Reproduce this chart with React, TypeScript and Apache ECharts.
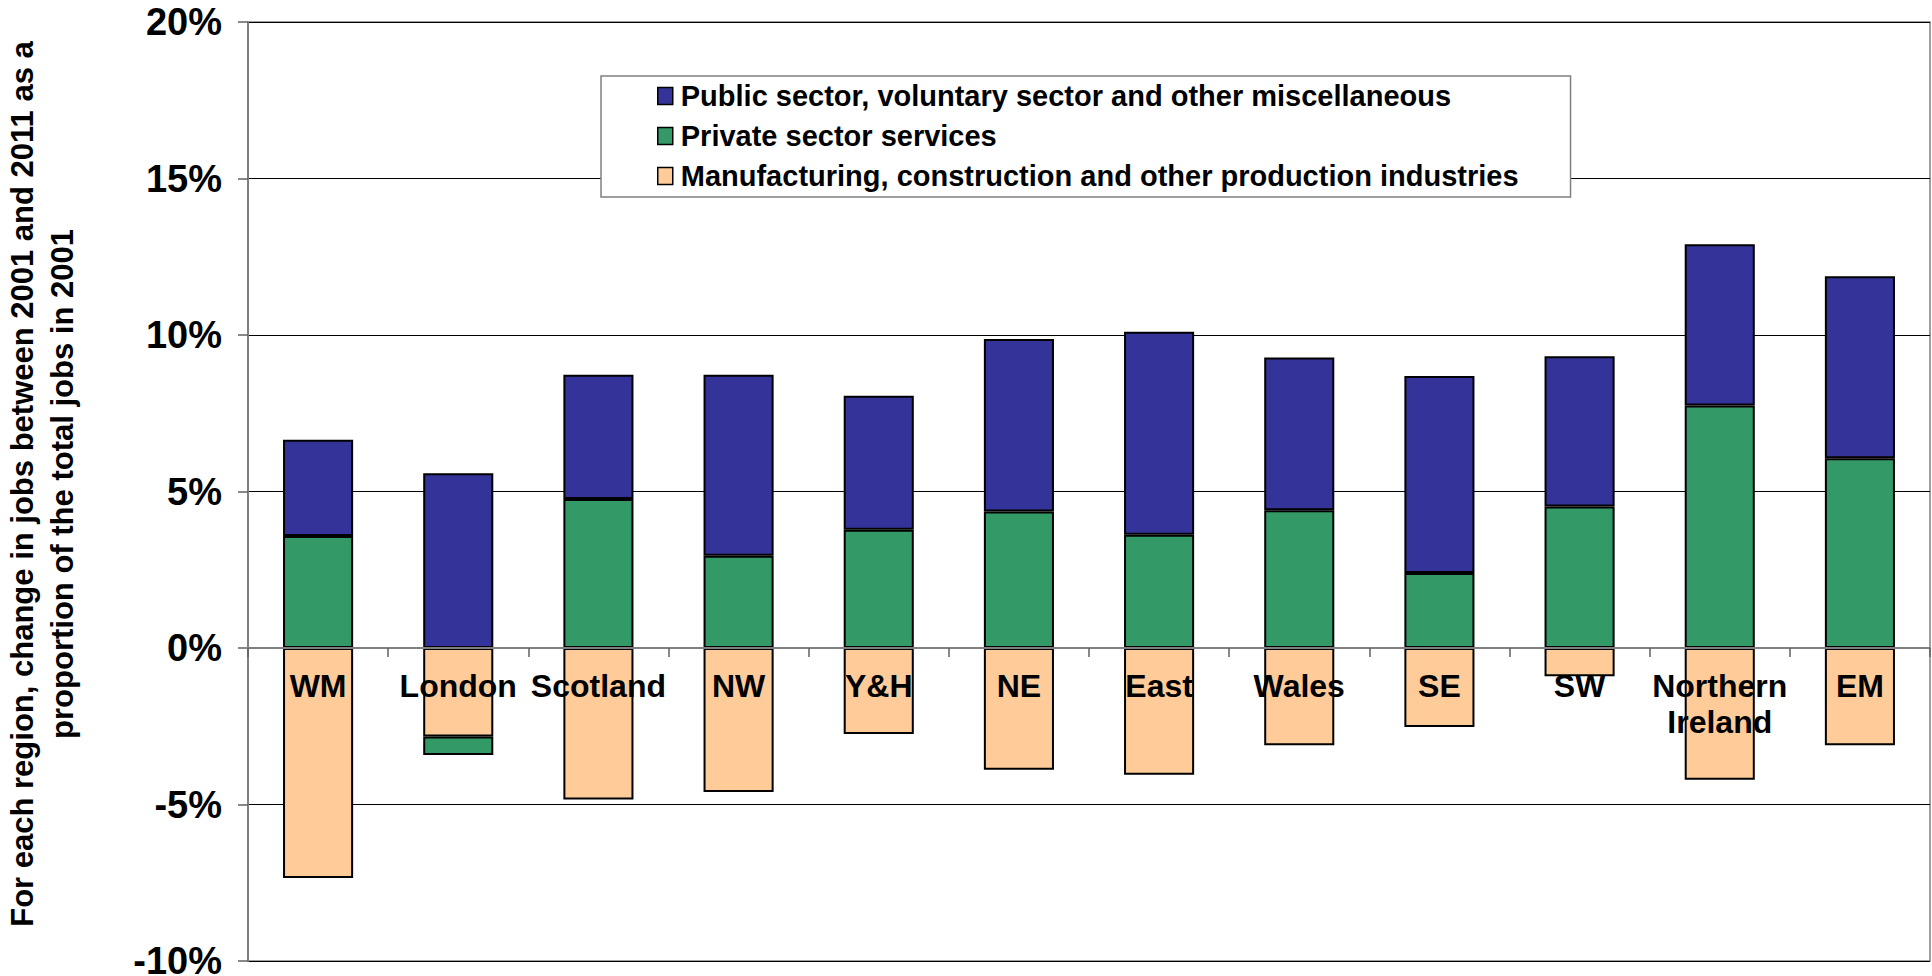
import React, { useEffect, useRef } from "react";
import * as echarts from "echarts";

const categories = ["WM", "London", "Scotland", "NW", "Y&H", "NE", "East", "Wales", "SE", "SW", "Northern\nIreland", "EM"];
const manufacturing = [-7.35, -2.83, -4.84, -4.6, -2.75, -3.89, -4.05, -3.11, -2.52, -0.9, -4.21, -3.11];
const privateServices = [3.58, -0.59, 4.76, 2.95, 3.78, 4.36, 3.62, 4.4, 2.4, 4.52, 7.75, 6.06];
const publicSector = [3.07, 5.58, 3.97, 5.78, 4.28, 5.51, 6.48, 4.88, 6.29, 4.8, 5.15, 5.82];
const seriesNames = [
  "Public sector, voluntary sector and other miscellaneous",
  "Private sector services",
  "Manufacturing, construction and other production industries",
];
const yTitle = "For each region, change in jobs between 2001 and 2011 as a\nproportion of the total jobs in 2001";

const FONT = "'Liberation Sans', Arial, Helvetica, sans-serif";

export default function App() {
  const ref = useRef<HTMLDivElement>(null);
  useEffect(() => {
    if (!ref.current) return;
    const chart = echarts.init(ref.current, null, { renderer: "svg" });
    const barStyle = (color: string) => ({ color, borderColor: "#000", borderWidth: 2 });
    chart.setOption({
      animation: false,
      backgroundColor: "#fff",
      grid: {
        left: 248,
        right: 2,
        top: 22,
        bottom: 15,
        outerBoundsMode: "none",
        containLabel: false,
        show: true,
        borderColor: "#808080",
        borderWidth: 1.5,
        backgroundColor: "transparent",
      },
      legend: {
        orient: "vertical",
        left: 601,
        top: 76,
        data: seriesNames,
        backgroundColor: "#fff",
        borderColor: "#808080",
        borderWidth: 1.5,
        padding: [5, 52, 6, 56],
        itemGap: 10,
        itemWidth: 15,
        itemHeight: 17,
        icon: "rect",
        selectedMode: false,
        itemStyle: { borderColor: "#000", borderWidth: 1.5 },
        textStyle: {
          fontFamily: FONT,
          fontWeight: "bold",
          fontSize: 29,
          color: "#000",
          lineHeight: 30,
          padding: [0, 0, 0, 3],
        },
      },
      xAxis: {
        type: "category",
        data: categories,
        z: 10,
        boundaryGap: true,
        axisLine: { onZero: true, lineStyle: { color: "#808080", width: 2 } },
        axisTick: { show: true, length: 9, alignWithLabel: false, lineStyle: { color: "#606060", width: 1.5 } },
        axisLabel: { show: false },
        splitLine: { show: false },
      },
      yAxis: {
        type: "value",
        min: -10,
        max: 20,
        interval: 5,
        axisLine: { show: true, lineStyle: { color: "#808080", width: 2 } },
        axisTick: { show: true, length: 10, lineStyle: { color: "#606060", width: 1.5 } },
        axisLabel: {
          formatter: "{value}%",
          margin: 26,
          fontFamily: FONT,
          fontWeight: "bold",
          fontSize: 38,
          color: "#000",
        },
        splitLine: { show: true, lineStyle: { color: "#000", width: 1 } },
      },
      graphic: [
        {
          type: "text",
          x: 42,
          y: 484,
          rotation: Math.PI / 2,
          style: {
            text: yTitle,
            fontFamily: FONT,
            fontWeight: "bold",
            fontSize: 31,
            lineHeight: 40,
            fill: "#000",
            align: "center",
            verticalAlign: "middle",
          },
        },
      ],
      series: [
        {
          name: seriesNames[2],
          type: "bar",
          stack: "jobs",
          barWidth: "50%",
          data: manufacturing,
          itemStyle: barStyle("#FFCC99"),
        },
        {
          name: seriesNames[1],
          type: "bar",
          stack: "jobs",
          barWidth: "50%",
          data: privateServices,
          itemStyle: barStyle("#339966"),
        },
        {
          name: seriesNames[0],
          type: "bar",
          stack: "jobs",
          barWidth: "50%",
          data: publicSector,
          itemStyle: barStyle("#333399"),
        },
        {
          name: "categoryLabels",
          type: "scatter",
          z: 20,
          symbolSize: 0,
          silent: true,
          itemStyle: { opacity: 1 },
          data: categories.map((c) => [c, 0]),
          label: {
            show: true,
            position: "bottom",
            distance: 20,
            formatter: (p: any) => p.data[0],
            fontFamily: FONT,
            fontWeight: "bold",
            fontSize: 32,
            lineHeight: 36,
            color: "#000",
            opacity: 1,
            textBorderWidth: 0,
          },
        },
      ],
    });
    return () => chart.dispose();
  }, []);
  return <div ref={ref} style={{ position: "fixed", left: 0, top: 0, width: 1932, height: 976 }} />;
}
